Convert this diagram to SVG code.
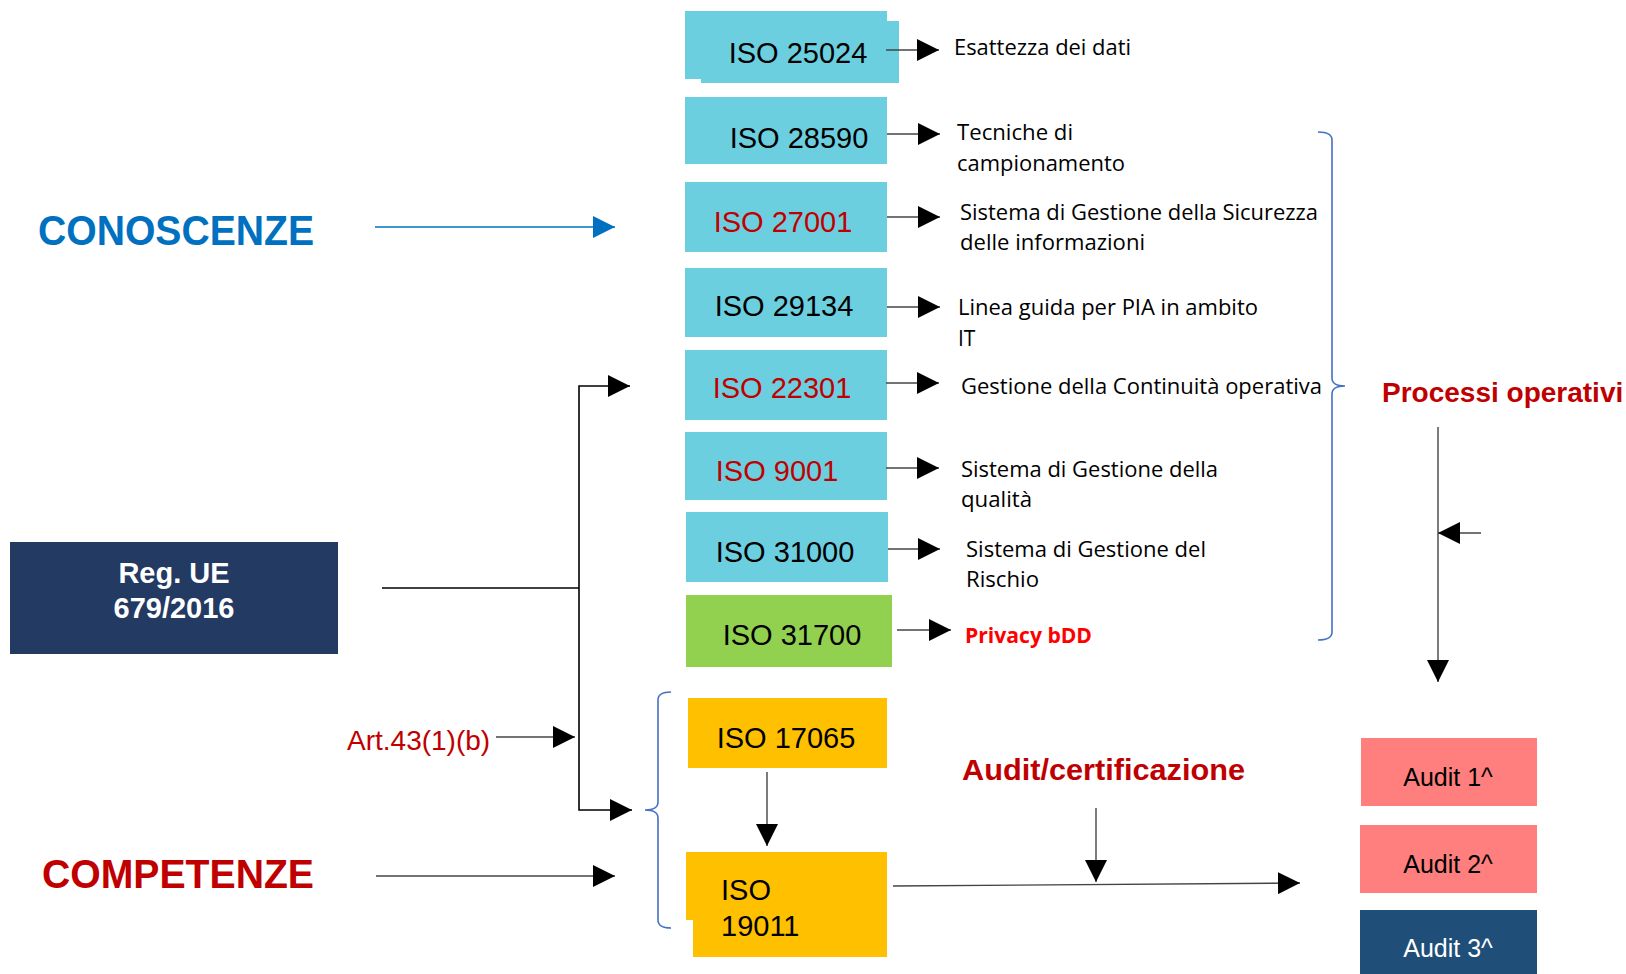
<svg xmlns="http://www.w3.org/2000/svg" width="1626" height="974" viewBox="0 0 1626 974">
<style>
.bg{fill:#ffffff}
.cyan{fill:#6ccfdf}
.green{fill:#92d050}
.orange{fill:#ffc000}
.iso{font-family:"Liberation Sans",Arial,sans-serif;font-size:29px;fill:#000}
.isored{fill:#c00000}
.desc{font-family:"Open Sans","Noto Sans",sans-serif;font-size:21px;fill:#000}
.line{stroke:#444;stroke-width:1.4;fill:none}
.bracket{stroke:#4472c4;stroke-width:1.6;fill:none}
.title{font-family:"Liberation Sans",Arial,sans-serif;font-weight:bold}
.audit{font-family:"Liberation Sans",Arial,sans-serif;font-size:25px;text-anchor:middle}
</style>
<defs>
<marker id="ah" viewBox="0 0 22 22" markerWidth="22" markerHeight="22" refX="22" refY="11" orient="auto" markerUnits="userSpaceOnUse">
<path d="M0,0 L22,11 L0,22 z" fill="#000"/>
</marker>
<marker id="ahb" viewBox="0 0 22 22" markerWidth="22" markerHeight="22" refX="22" refY="11" orient="auto" markerUnits="userSpaceOnUse">
<path d="M0,0 L22,11 L0,22 z" fill="#0070c0"/>
</marker>
</defs>
<rect class="bg" x="0" y="0" width="1626" height="974"/>

<g id="conoscenze">
<text class="title" x="38" y="245" font-size="42" fill="#0070c0" textLength="276" lengthAdjust="spacingAndGlyphs">CONOSCENZE</text>
</g>
<g id="competenze">
<text class="title" x="42" y="888" font-size="40" fill="#c00000" textLength="272" lengthAdjust="spacingAndGlyphs">COMPETENZE</text>
</g>

<g id="reg-ue">
<rect x="10" y="542" width="328" height="112" fill="#233a63"/>
<text class="title" x="174" y="583" font-size="29" fill="#fff" text-anchor="middle">Reg. UE</text>
<text class="title" x="174" y="618" font-size="29" fill="#fff" text-anchor="middle">679/2016</text>
</g>

<g id="art43">
<text x="347" y="750" font-family="Liberation Sans,Arial,sans-serif" font-size="28" fill="#c00000">Art.43(1)(b)</text>
</g>

<g id="iso25024">
<rect class="cyan" x="685" y="11" width="202" height="68"/>
<rect class="cyan" x="701" y="21" width="198" height="62"/>
<text class="iso" x="798" y="63" text-anchor="middle">ISO 25024</text>
</g>
<g id="iso28590">
<rect class="cyan" x="685" y="97" width="202" height="67"/>
<text class="iso" x="799" y="148" text-anchor="middle">ISO 28590</text>
</g>
<g id="iso27001">
<rect class="cyan" x="685" y="182" width="202" height="70"/>
<text class="iso isored" x="783" y="232" text-anchor="middle">ISO 27001</text>
</g>
<g id="iso29134">
<rect class="cyan" x="685" y="268" width="202" height="69"/>
<text class="iso" x="784" y="316" text-anchor="middle">ISO 29134</text>
</g>
<g id="iso22301">
<rect class="cyan" x="685" y="350" width="202" height="70"/>
<text class="iso isored" x="782" y="398" text-anchor="middle">ISO 22301</text>
</g>
<g id="iso9001">
<rect class="cyan" x="685" y="432" width="202" height="68"/>
<text class="iso isored" x="777" y="481" text-anchor="middle">ISO 9001</text>
</g>
<g id="iso31000">
<rect class="cyan" x="686" y="512" width="202" height="70"/>
<text class="iso" x="785" y="562" text-anchor="middle">ISO 31000</text>
</g>
<g id="iso31700">
<rect class="green" x="686" y="595" width="206" height="72"/>
<text class="iso" x="792" y="645" text-anchor="middle">ISO 31700</text>
</g>
<g id="iso17065">
<rect class="orange" x="688" y="698" width="199" height="70"/>
<text class="iso" x="786" y="748" text-anchor="middle">ISO 17065</text>
</g>
<g id="iso19011">
<rect class="orange" x="686" y="852" width="201" height="68"/>
<rect class="orange" x="693" y="918" width="194" height="39"/>
<text class="iso" x="721" y="900">ISO</text>
<text class="iso" x="721" y="936">19011</text>
</g>

<g id="descriptions">
<text class="desc" x="954" y="55" textLength="177" lengthAdjust="spacingAndGlyphs">Esattezza dei dati</text>
<text class="desc" x="957" y="140" textLength="116" lengthAdjust="spacingAndGlyphs">Tecniche di</text>
<text class="desc" x="957" y="171" textLength="168" lengthAdjust="spacingAndGlyphs">campionamento</text>
<text class="desc" x="960" y="220" textLength="358" lengthAdjust="spacingAndGlyphs">Sistema di Gestione della Sicurezza</text>
<text class="desc" x="960" y="250" textLength="185" lengthAdjust="spacingAndGlyphs">delle informazioni</text>
<text class="desc" x="958" y="315" textLength="300" lengthAdjust="spacingAndGlyphs">Linea guida per PIA in ambito</text>
<text class="desc" x="958" y="346">IT</text>
<text class="desc" x="961" y="394" textLength="361" lengthAdjust="spacingAndGlyphs">Gestione della Continuità operativa</text>
<text class="desc" x="961" y="477" textLength="257" lengthAdjust="spacingAndGlyphs">Sistema di Gestione della</text>
<text class="desc" x="961" y="507" textLength="71" lengthAdjust="spacingAndGlyphs">qualità</text>
<text class="desc" x="966" y="557" textLength="240" lengthAdjust="spacingAndGlyphs">Sistema di Gestione del</text>
<text class="desc" x="966" y="587" textLength="73" lengthAdjust="spacingAndGlyphs">Rischio</text>
<text class="desc" x="965" y="643" font-weight="bold" style="fill:#ff0000" textLength="127" lengthAdjust="spacingAndGlyphs">Privacy bDD</text>
</g>

<g id="processi">
<text class="title" x="1382" y="402" font-size="28" fill="#c00000">Processi operativi</text>
</g>
<g id="audit-cert">
<text class="title" x="962" y="780" font-size="30" fill="#c00000" textLength="283" lengthAdjust="spacingAndGlyphs">Audit/certificazione</text>
</g>

<g id="audit1">
<rect x="1361" y="738" width="176" height="68" fill="#ff7f7f"/>
<text class="audit" x="1448" y="786" fill="#000">Audit 1^</text>
</g>
<g id="audit2">
<rect x="1360" y="825" width="177" height="68" fill="#ff7f7f"/>
<text class="audit" x="1448" y="873" fill="#000">Audit 2^</text>
</g>
<g id="audit3">
<rect x="1360" y="910" width="177" height="70" fill="#1f4e79"/>
<text class="audit" x="1448" y="957" fill="#fff">Audit 3^</text>
</g>

<g id="connectors">
<line x1="375" y1="227" x2="615" y2="227" stroke="#0070c0" stroke-width="1.4" marker-end="url(#ahb)"/>
<line class="line" x1="376" y1="876" x2="615" y2="876" marker-end="url(#ah)"/>
<line class="line" x1="886" y1="50" x2="939" y2="50" marker-end="url(#ah)"/>
<line class="line" x1="887" y1="134" x2="940" y2="134" marker-end="url(#ah)"/>
<line class="line" x1="887" y1="217" x2="940" y2="217" marker-end="url(#ah)"/>
<line class="line" x1="887" y1="307" x2="940" y2="307" marker-end="url(#ah)"/>
<line class="line" x1="886" y1="383" x2="939" y2="383" marker-end="url(#ah)"/>
<line class="line" x1="886" y1="468" x2="939" y2="468" marker-end="url(#ah)"/>
<line class="line" x1="888" y1="549" x2="940" y2="549" marker-end="url(#ah)"/>
<line class="line" x1="897" y1="630" x2="951" y2="630" marker-end="url(#ah)"/>
<line x1="382" y1="588" x2="579" y2="588" stroke="#000" stroke-width="1.6"/>
<polyline points="630,386 579,386 579,810 632,810" stroke="#000" stroke-width="1.6" fill="none" marker-end="url(#ah)"/>
<path d="M608,375 L630,386 L608,397 z" fill="#000"/>
<line class="line" x1="496" y1="737" x2="575" y2="737" marker-end="url(#ah)"/>
<line class="line" x1="767" y1="772" x2="767" y2="846" marker-end="url(#ah)"/>
<line class="line" x1="893" y1="886" x2="1300" y2="883" marker-end="url(#ah)"/>
<line class="line" x1="1096" y1="808" x2="1096" y2="882" marker-end="url(#ah)"/>
<line class="line" x1="1438" y1="427" x2="1438" y2="682" marker-end="url(#ah)"/>
<line class="line" x1="1481" y1="533" x2="1438" y2="533" marker-end="url(#ah)"/>
<path class="bracket" d="M671,692 Q658,692 658,700 L658,802 Q658,810 645,810 Q658,810 658,818 L658,920 Q658,928 671,928"/>
<path class="bracket" d="M1318,132 Q1332,132 1332,140 L1332,378 Q1332,386 1345,386 Q1332,386 1332,394 L1332,632 Q1332,640 1318,640"/>
</g>
</svg>
